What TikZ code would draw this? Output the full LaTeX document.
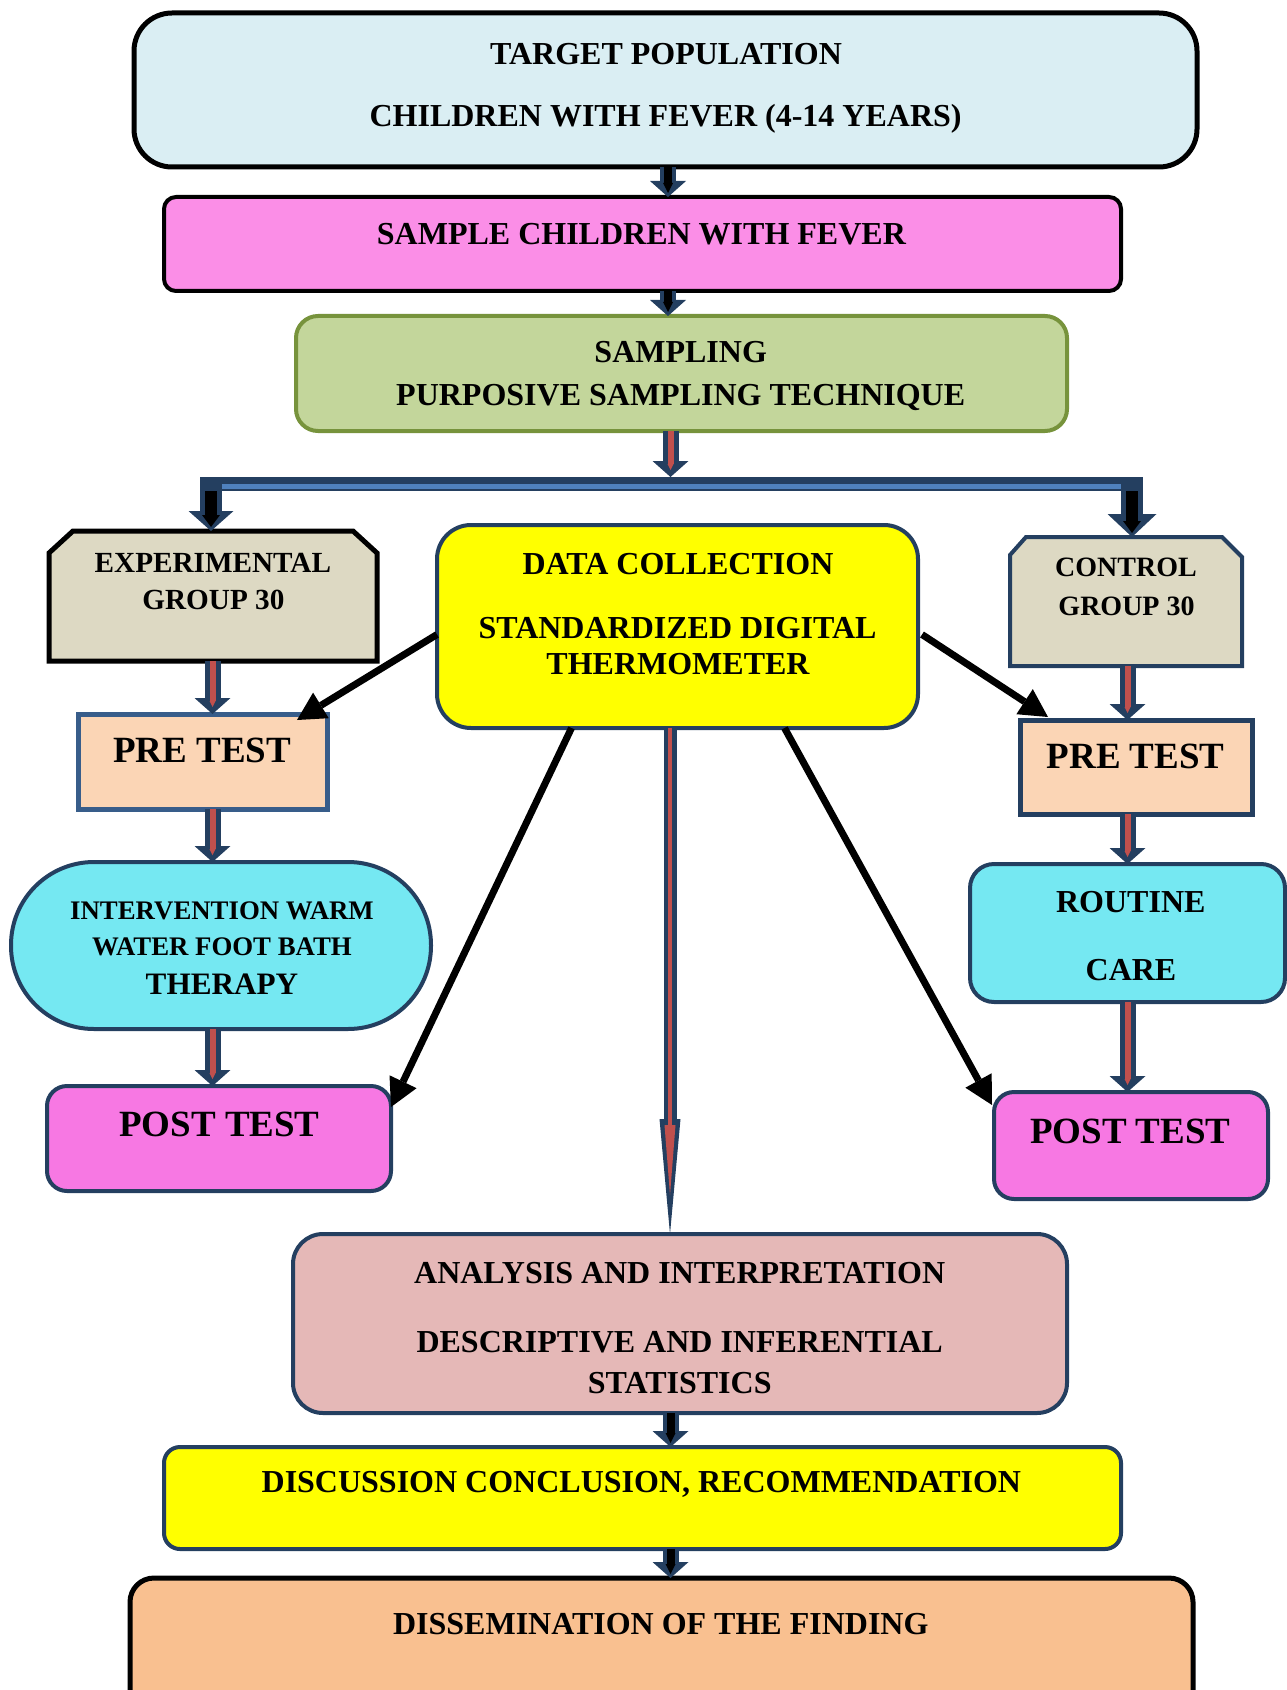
\documentclass[tikz,border=0pt]{standalone}
\usepackage{fontspec}
\setmainfont{Liberation Serif}
\usetikzlibrary{fit,calc,arrows.meta}
\definecolor{navyc}{HTML}{243F60}
\definecolor{steelc}{HTML}{385D8A}
\definecolor{lblue}{HTML}{DAEEF3}
\definecolor{pinkA}{HTML}{FB8EE7}
\definecolor{greenF}{HTML}{C3D69B}
\definecolor{greenD}{HTML}{77933C}
\definecolor{tanF}{HTML}{DDD9C3}
\definecolor{peach}{HTML}{FBD5B5}
\definecolor{cyanF}{HTML}{75E8F2}
\definecolor{pinkB}{HTML}{F778E3}
\definecolor{roseF}{HTML}{E5B8B7}
\definecolor{orangeF}{HTML}{F9C090}
\definecolor{redF}{HTML}{C0504D}
\definecolor{blueF}{HTML}{4F81BD}
\definecolor{yelF}{HTML}{FFFF00}
\begin{document}
\begin{tikzpicture}[x=0.5pt,y=-0.5pt,
  box/.style={inner sep=0pt,outer sep=0pt,line width=2pt},
  txt/.style={anchor=base,inner sep=0pt,font=\bfseries\fontsize{16pt}{19pt}\selectfont},
  txtS/.style={anchor=base,inner sep=0pt,font=\bfseries\fontsize{14pt}{17pt}\selectfont},
  txtE/.style={anchor=base,inner sep=0pt,font=\bfseries\fontsize{14.6pt}{17pt}\selectfont},
  txtL/.style={anchor=base,inner sep=0pt,font=\bfseries\fontsize{18.5pt}{22pt}\selectfont},
  txtI/.style={anchor=base,inner sep=0pt,font=\bfseries\fontsize{13.4pt}{16pt}\selectfont},
  txtT/.style={anchor=base,inner sep=0pt,font=\bfseries\fontsize{15.6pt}{18pt}\selectfont},
  bout/.style={navyc,line width=8pt,-{Triangle[width=18pt,length=8pt,line width=0pt]}},
  binK/.style={black,line width=4pt,shorten >=2pt,-{Triangle[width=5pt,length=5pt,line width=0pt]}},
  binR/.style={redF,line width=3pt,shorten >=3.5pt,-{Triangle[width=3pt,length=3pt,line width=0pt]}},
  karrow/.style={black,line width=3.5pt,-{Triangle[width=15pt,length=14pt,line width=0pt]}}]
\useasboundingbox (0,0) rectangle (1286,1690);

% boxes
\node[box,fit={(134,13)(1197,167)},rounded corners=19pt,draw=black,line width=2.5pt,fill=lblue] (target) {};
\node[box,fit={(164,197)(1121,291)},rounded corners=6pt,draw=black,fill=pinkA] (sample) {};
\node[box,fit={(296,316)(1067,431)},rounded corners=11pt,draw=greenD,fill=greenF] (sampling) {};
\node[box,fit={(49,531)(377,661)}] (exp) {};
\draw[black,line width=2.5pt,fill=tanF,line join=miter]
  (exp.south west) -- ($(exp.north west)+(0,22)$) -- ($(exp.north west)+(24,0)$)
  -- ($(exp.north east)+(-24,0)$) -- ($(exp.north east)+(0,22)$) -- (exp.south east) -- cycle;
\node[box,fit={(437,525)(918,728)},rounded corners=17pt,draw=navyc,fill=yelF] (dc) {};
\node[box,fit={(1010,537)(1242,666)}] (ctrl) {};
\draw[navyc,line width=2pt,fill=tanF,line join=miter]
  (ctrl.south west) -- ($(ctrl.north west)+(0,18)$) -- ($(ctrl.north west)+(16,0)$)
  -- ($(ctrl.north east)+(-20,0)$) -- ($(ctrl.north east)+(0,20)$) -- (ctrl.south east) -- cycle;
\node[box,fit={(78,714)(327,809)},draw=steelc,line width=2.5pt,fill=peach] (preL) {};
\node[box,fit={(1020,720)(1252,814)},draw=navyc,line width=2.5pt,fill=peach] (preR) {};
\node[box,fit={(11,862)(431,1029)},rounded corners=41.5pt,draw=navyc,fill=cyanF] (interv) {};
\node[box,fit={(970,864)(1285,1002)},rounded corners=12pt,draw=navyc,fill=cyanF] (routine) {};
\node[box,fit={(47,1086)(391,1191)},rounded corners=10pt,draw=navyc,fill=pinkB] (postL) {};
\node[box,fit={(994,1092)(1268,1199)},rounded corners=10pt,draw=navyc,fill=pinkB] (postR) {};
\node[box,fit={(293,1234)(1067,1413)},rounded corners=15pt,draw=navyc,fill=roseF] (anal) {};
\node[box,fit={(164,1447)(1121,1549)},rounded corners=8pt,draw=navyc,fill=yelF] (disc) {};
\node[box,fit={(130,1578)(1193,1730)},rounded corners=12pt,draw=black,line width=2.5pt,fill=orangeF] (dissem) {};

% texts
\node[txt] (t1) at (666,64.5) {TARGET POPULATION};
\node[txt] (t2) at (665.6,127) {CHILDREN WITH FEVER (4-14 YEARS)};
\node[txt] (t3) at (641.4,244.5) {SAMPLE CHILDREN WITH FEVER};
\node[txt] (t4) at (680.7,363) {SAMPLING};
\node[txt] (t5) at (680.7,405) {PURPOSIVE SAMPLING TECHNIQUE};
\node[txtE] (t6) at (212.9,572) {EXPERIMENTAL};
\node[txtE] (t7) at (213.4,609.7) {GROUP 30};
\node[txt] (t8) at (678,574.4) {DATA COLLECTION};
\node[txt] (t9) at (677.5,638) {STANDARDIZED DIGITAL};
\node[txt] (t10) at (678,674.6) {THERMOMETER};
\node[txtS] (t11) at (1126,576.3) {CONTROL};
\node[txtS] (t12) at (1126.5,615.1) {GROUP 30};
\node[txtL] (t13) at (202,762.5) {PRE TEST};
\node[txtL] (t14) at (1135.6,768) {PRE TEST};
\node[txtI] (t15) at (222,919.7) {INTERVENTION WARM};
\node[txtI] (t16) at (222,955.3) {WATER FOOT BATH};
\node[txtT] (t17) at (222,994.5) {THERAPY};
\node[txt] (t18) at (1130.8,912.9) {ROUTINE};
\node[txt] (t19) at (1131,980.8) {CARE};
\node[txtL] (t20) at (219.4,1136.5) {POST TEST};
\node[txtL] (t21) at (1130.3,1143) {POST TEST};
\node[txt] (t22) at (679.7,1283.6) {ANALYSIS AND INTERPRETATION};
\node[txt] (t23) at (679.7,1352.6) {DESCRIPTIVE AND INFERENTIAL};
\node[txt] (t24) at (679.7,1393.6) {STATISTICS};
\node[txt] (t25) at (641.4,1492.8) {DISCUSSION CONCLUSION, RECOMMENDATION};
\node[txt] (t26) at (660.8,1634) {DISSEMINATION OF THE FINDING};

% x positions of block arrows
\coordinate (xA) at (668,0);
\coordinate (xB) at (670.5,0);
\coordinate (xL) at (212.5,0);
\coordinate (xR) at (1127.5,0);
\coordinate (xC) at (670,0);

% top black block arrows
\draw[bout] (target.south -| xA) -- (sample.north -| xA);
\draw[binK] (target.south -| xA) -- (sample.north -| xA);
\draw[bout] (sample.south -| xA) -- (sampling.north -| xA);
\draw[binK] (sample.south -| xA) -- (sampling.north -| xA);

% split connector
\coordinate (barTop) at (670.5,477);
\coordinate (barL) at (200,484);
\coordinate (barR) at (1143,484);
\coordinate (barLi) at (205,486);
\coordinate (barRi) at (1138,486);
\coordinate (bx1) at (211,484);
\coordinate (bx2) at (1132,484);
\draw[bout] (sampling.south -| xB) -- (barTop);
\draw[binR] (sampling.south -| xB) -- (barTop);
\draw[navyc,line width=7pt] (barL) -- (barR);
\draw[blueF,line width=2.5pt] (barLi) -- (barRi);
\draw[navyc,line width=11pt,-{Triangle[width=22.5pt,length=10pt,line width=0pt]}] (bx1) -- (exp.north -| bx1);
\draw[black,line width=6.2pt,shorten >=2pt,-{Triangle[width=9pt,length=6pt,line width=0pt]}] ($(bx1)+(0,7)$) -- (exp.north -| bx1);
\draw[navyc,line width=11pt,-{Triangle[width=24.5pt,length=11.5pt,line width=0pt]}] (bx2) -- (ctrl.north -| bx2);
\draw[black,line width=6.2pt,shorten >=2pt,-{Triangle[width=9pt,length=6pt,line width=0pt]}] ($(bx2)+(0,7)$) -- (ctrl.north -| bx2);

% left column
\draw[bout] (exp.south -| xL) -- (preL.north -| xL);
\draw[binR] (exp.south -| xL) -- (preL.north -| xL);
\draw[bout] (preL.south -| xL) -- (interv.north -| xL);
\draw[binR] (preL.south -| xL) -- (interv.north -| xL);
\draw[bout] (interv.south -| xL) -- (postL.north -| xL);
\draw[binR] (interv.south -| xL) -- (postL.north -| xL);

% right column
\draw[bout] (ctrl.south -| xR) -- (preR.north -| xR);
\draw[binR] (ctrl.south -| xR) -- (preR.north -| xR);
\draw[bout] (preR.south -| xR) -- (routine.north -| xR);
\draw[binR] (preR.south -| xR) -- (routine.north -| xR);
\draw[bout] (routine.south -| xR) -- (postR.north -| xR);
\draw[binR] (routine.south -| xR) -- (postR.north -| xR);

% bottom black block arrows
\draw[bout] (anal.south -| xB) -- (disc.north -| xB);
\draw[binK] (anal.south -| xB) -- (disc.north -| xB);
\draw[bout] (disc.south -| xB) -- (dissem.north -| xB);
\draw[binK] (disc.south -| xB) -- (dissem.north -| xB);

% black arrows from data collection
\draw[karrow] ($(dc.west)+(0,8)$) -- ($(preL.north east)+(-30,6)$);
\draw[karrow] ($(dc.east)+(4,8)$) -- ($(preR.north west)+(28,-3)$);
\draw[karrow] ($(dc.south)+(-106,0)$) -- ($(postL.north east)+(0,21)$);
\draw[karrow] ($(dc.south)+(107,0)$) -- ($(postR.north west)+(-2,13)$);

% central long arrow
\draw[navyc,line width=6.5pt,-{Triangle[width=10.5pt,length=57.5pt,line width=0pt]}] (dc.south -| xC) -- (anal.north -| xC);
\draw[redF,line width=2.25pt,shorten >=19.5pt,-{Triangle[width=5.5pt,length=35pt,line width=0pt]}] (dc.south -| xC) -- (anal.north -| xC);
\end{tikzpicture}
\end{document}
